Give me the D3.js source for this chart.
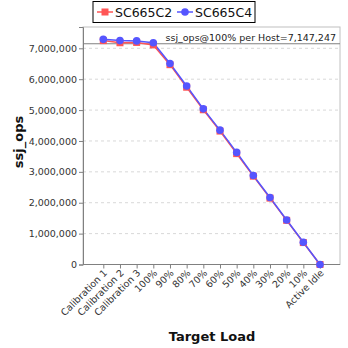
<!DOCTYPE html>
<html>
<head>
<meta charset="utf-8">
<script src="https://cdn.jsdelivr.net/npm/d3@7/dist/d3.min.js"></script>
<style>
  html, body { margin: 0; padding: 0; background: #fff; }
  svg { display: block; font-family: "DejaVu Sans", sans-serif; }
</style>
</head>
<body>
<svg id="chart" width="348" height="348"></svg>
<script>
// Target load levels along the x axis
const categories = ["Calibration 1", "Calibration 2", "Calibration 3", "100%", "90%", "80%", "70%",
  "60%", "50%", "40%", "30%", "20%", "10%", "Active Idle"];
// ssj_ops per host for each system
const seriesNames = ["SC665C2", "SC665C4"];
const sc665c2 = [7250000, 7180000, 7190000, 7110000, 6470000, 5740000, 5010000,
  4320000, 3590000, 2860000, 2150000, 1430000, 710000, 0];
const sc665c4 = [7290000, 7250000, 7240000, 7180000, 6510000, 5780000, 5040000,
  4350000, 3630000, 2880000, 2170000, 1440000, 720000, 0];
const yTicks = [0, 1000000, 2000000, 3000000, 4000000, 5000000, 6000000, 7000000];
const refValue = 7147247;
const refLabel = "ssj_ops@100% per Host=7,147,247";

const svg = d3.select("#chart");
const plot = { left: 83, right: 340, top: 27, bottom: 264.5 };

const x = d3.scalePoint().domain(categories).range([103.3, 320]);
const y = d3.scaleLinear().domain([0, 7690000]).range([plot.bottom, plot.top]);
const fmt = d3.format(",");

// gridlines
svg.append("g").selectAll("line").data(yTicks.filter(d => d > 0)).join("line")
  .attr("x1", plot.left).attr("x2", plot.right)
  .attr("y1", d => y(d)).attr("y2", d => y(d))
  .attr("stroke", "#d8d8d8").attr("stroke-width", 1).attr("stroke-dasharray", "3,3");

// plot frame
svg.append("rect").attr("x", plot.left).attr("y", plot.top)
  .attr("width", plot.right - plot.left).attr("height", plot.bottom - plot.top)
  .attr("fill", "none").attr("stroke", "#c0c0c0").attr("stroke-width", 1);

// y axis
const yAxis = svg.append("g").attr("transform", `translate(${plot.left},0)`)
  .call(d3.axisLeft(y).tickValues(yTicks).tickFormat(fmt).tickSize(4).tickPadding(2));
yAxis.select(".domain").attr("stroke", "#808080");
yAxis.selectAll(".tick line").attr("stroke", "#808080");
yAxis.selectAll(".tick text").attr("font-size", "9.5px").attr("fill", "#333")
  .attr("font-family", "DejaVu Sans, sans-serif");

// x axis
const xAxis = svg.append("g").attr("transform", `translate(0,${plot.bottom})`)
  .call(d3.axisBottom(x).tickSize(4).tickPadding(2));
xAxis.select(".domain").attr("stroke", "#808080")
  .attr("d", `M${plot.left},0H${plot.right}`);
xAxis.selectAll(".tick line").attr("stroke", "#808080");
xAxis.selectAll(".tick text").attr("font-size", "9.5px").attr("fill", "#333")
  .attr("font-family", "DejaVu Sans, sans-serif")
  .attr("text-anchor", "end").attr("dy", null).attr("y", 0).attr("x", 0)
  .attr("transform", "translate(4,9) rotate(-45)");

// reference line for 100% load
svg.append("line").attr("x1", plot.left).attr("x2", plot.right)
  .attr("y1", y(refValue)).attr("y2", y(refValue))
  .attr("stroke", "#808080").attr("stroke-width", 1.2);
svg.append("text").attr("x", 336).attr("y", y(refValue) - 3)
  .attr("text-anchor", "end").attr("font-size", "9.5px").attr("fill", "#222")
  .text(refLabel);

const colors = ["#ff5555", "#5555ff"];
const data = [sc665c2, sc665c4];
const line = d3.line().x((d, i) => x(categories[i])).y(d => y(d));

data.forEach((vals, k) => {
  svg.append("path").datum(vals).attr("d", line)
    .attr("fill", "none").attr("stroke", colors[k]).attr("stroke-width", 1.5);
});
// markers
svg.append("g").selectAll("rect").data(sc665c2).join("rect")
  .attr("x", (d, i) => x(categories[i]) - 3.5).attr("y", d => y(d) - 3.5)
  .attr("width", 7).attr("height", 7).attr("fill", colors[0]);
svg.append("g").selectAll("circle").data(sc665c4).join("circle")
  .attr("cx", (d, i) => x(categories[i])).attr("cy", d => y(d))
  .attr("r", 3.8).attr("fill", colors[1]);

// axis titles
svg.append("text").attr("transform", "translate(23,142) rotate(-90)")
  .attr("text-anchor", "middle").attr("font-size", "13px").attr("font-weight", "bold")
  .attr("fill", "#111").text("ssj_ops");
svg.append("text").attr("x", 212).attr("y", 341)
  .attr("text-anchor", "middle").attr("font-size", "13px").attr("font-weight", "bold")
  .attr("fill", "#111").text("Target Load");

// legend
const lg = svg.append("g");
lg.append("rect").attr("x", 93).attr("y", 1.5).attr("width", 162).attr("height", 21)
  .attr("fill", "#fff").attr("stroke", "#000").attr("stroke-width", 1);
const items = [{ x: 97, tx: 115 }, { x: 177, tx: 195 }];
items.forEach((it, k) => {
  lg.append("line").attr("x1", it.x).attr("x2", it.x + 16).attr("y1", 12).attr("y2", 12)
    .attr("stroke", colors[k]).attr("stroke-width", 1.5);
  if (k === 0) {
    lg.append("rect").attr("x", it.x + 4.5).attr("y", 8.5).attr("width", 7).attr("height", 7)
      .attr("fill", colors[k]);
  } else {
    lg.append("circle").attr("cx", it.x + 8).attr("cy", 12).attr("r", 3.8).attr("fill", colors[k]);
  }
  lg.append("text").attr("x", it.tx).attr("y", 17).attr("font-size", "12.5px")
    .attr("fill", "#111").text(seriesNames[k]);
});
</script>
</body>
</html>
